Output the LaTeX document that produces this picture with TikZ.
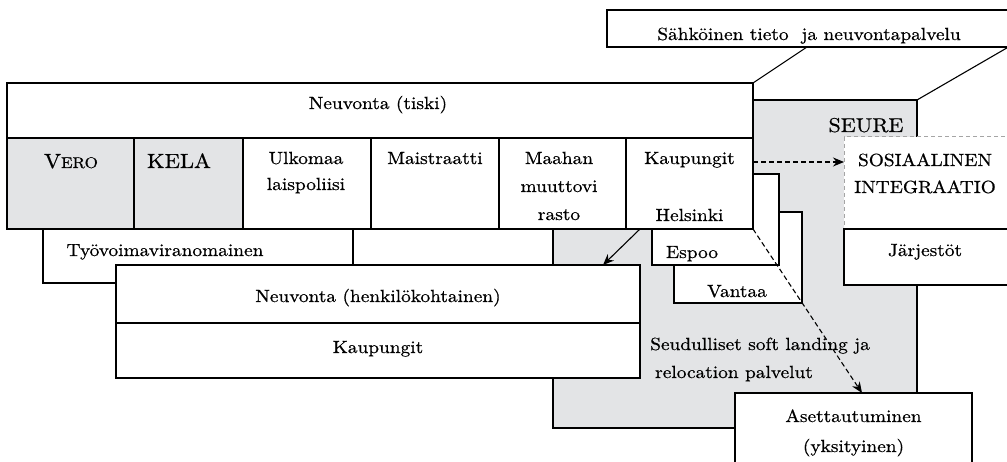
\documentclass[tikz,border=0pt]{standalone}
\usepackage{fontspec}
\setmainfont{lmroman10-regular.otf}[FakeBold=0.6]
\usetikzlibrary{arrows.meta,calc}
\definecolor{seuregray}{RGB}{227,228,230}
\definecolor{dashgray}{RGB}{165,165,165}
\newcommand\fs{\fontsize{17.6}{20}\selectfont}
\newcommand\bigfs{\fontsize{20}{22}\selectfont}
\newcommand\wide[1]{\scalebox{1.1}[1]{#1}}
\newcommand\mkbox[6]{\node[boxstyle,#6,minimum width={(#4-#2)*1pt},minimum height={(#5-#3)*1pt},anchor=north west] (#1) at (#2,#3) {};}
\newcommand\tx[4]{\node[txt] (#1) at (#2,#3) {\wide{#4}};}
\begin{document}
\begin{tikzpicture}[x=1pt,y=-1pt,
 boxstyle/.style={draw=black,line width=1.1pt,fill=white,inner sep=0pt,outer sep=0pt},
 greybox/.style={fill=seuregray},
 dashbox/.style={draw=dashgray,dash pattern=on 4pt off 3pt,line width=1pt},
 txt/.style={anchor=base,inner sep=0pt,font=\fs},
 ltxt/.style={anchor=base west,inner sep=0pt,font=\fs},
 edgeline/.style={line width=1.1pt},
 solidarrow/.style={line width=1.1pt,-{Stealth[length=11pt,width=9pt]}},
 dasharrow/.style={line width=1.1pt,dash pattern=on 5pt off 3pt,-{Stealth[length=11pt,width=9pt]}}
]
\useasboundingbox (0,0) rectangle (1007,462);
\clip (0,0) rectangle (1007,462);
% top electronic service box
\mkbox{sahk}{607}{10}{1008.5}{47}{}
\tx{sahkt}{809}{40}{Sähköinen tieto\ \ ja neuvontapalvelu}
% SEURE grey block
\mkbox{seure}{553}{100}{917}{428}{greybox}
\tx{seuret}{866}{132}{\bigfs SEURE}
\mkbox{sos}{844}{137}{1015}{229}{dashbox}
\tx{sos1}{925}{166}{SOSIAALINEN}
\tx{sos2}{925}{193}{INTEGRAATIO}
\mkbox{jarj}{844}{229}{1015}{285}{}
\tx{jarjt}{925}{256}{Järjestöt}
% desk
\mkbox{tiski}{7}{83}{753}{138}{}
\tx{tiskit}{378}{109}{Neuvonta (tiski)}
\draw[edgeline] (tiski.north east) -- ($(sahk.south west)+(200,0)$);
\draw[edgeline] (seure.north east) -- (sahk.south east);
% cities behind Helsinki
\mkbox{vantaa}{674}{212}{802}{303}{}
\mkbox{espoo}{652}{174}{779}{265}{}
\tx{espoot}{692}{258}{Espoo}
\tx{vantaat}{737}{297}{Vantaa}
% desk cells
\mkbox{vero}{7}{138}{134}{229}{greybox}
\mkbox{kela}{134}{138}{243}{229}{greybox}
\mkbox{ulko}{243}{138}{371}{229}{}
\mkbox{maist}{371}{138}{499}{229}{}
\mkbox{maah}{499}{138}{626}{229}{}
\mkbox{kaup}{626}{138}{753}{229}{}
\tx{verot}{71}{168}{\fontsize{20.5}{22}\selectfont V\fontsize{15.5}{17}\selectfont ERO}
\tx{kelat}{179}{168}{\fontsize{20.5}{22}\selectfont KELA}
\tx{ulko1}{306}{164}{Ulkomaa}
\tx{ulko2}{306}{190}{laispoliisi}
\tx{maistt}{435}{164}{Maistraatti}
\tx{maah1}{559}{164}{Maahan}
\tx{maah2}{559}{192}{muuttovi}
\tx{maah3}{559}{220}{rasto}
\tx{kaup1}{689.5}{164}{Kaupungit}
\tx{kaup2t}{689.5}{221}{Helsinki}
% employment authority
\mkbox{tyo}{43}{229}{353}{283}{}
\mkbox{tyob}{353}{229}{553}{283}{}
\tx{tyot}{165}{256}{Työvoimaviranomainen}
% personal guidance
\mkbox{henk}{116}{265}{640}{323}{}
\mkbox{kaupb}{116}{323}{640}{378}{}
\tx{henkt}{378}{302}{Neuvonta (henkilökohtainen)}
\tx{kaupbt}{378}{353}{Kaupungit}
% regional services text
\node[ltxt] (seud1) at (650,350) {\wide{Seudulliset soft landing ja}};
\node[ltxt] (seud2) at (655,378) {\wide{relocation palvelut}};
% settling
\mkbox{aset}{735}{393}{972}{480}{}
\tx{aset1}{853.5}{422}{Asettautuminen}
\tx{aset2}{853.5}{452}{(yksityinen)}
% arrows
\draw[solidarrow] ($(kaup.south west)+(14,0)$) -- ($(henk.north east)+(-37,0)$);
\coordinate (k1) at ($(kaup.east)+(0,-21.5)$);
\draw[dasharrow] (k1) -- (k1 -| sos.west);
\draw[dasharrow] (kaup.south east) -- ($(aset.north west)+(127,0)$);
\end{tikzpicture}
\end{document}
